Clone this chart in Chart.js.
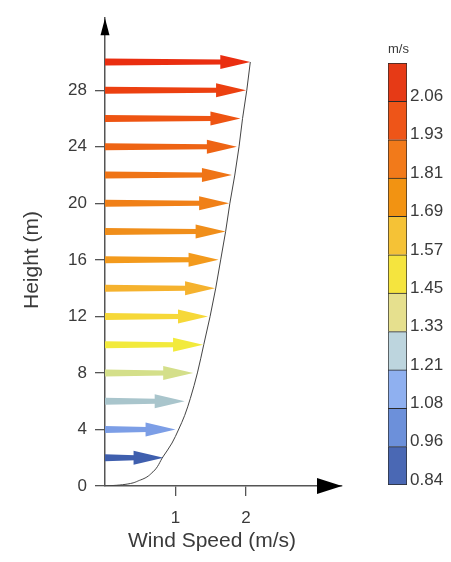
<!DOCTYPE html>
<html>
<head>
<meta charset="utf-8">
<script src="https://cdn.jsdelivr.net/npm/chart.js@4"></script>
<style>
  html, body { margin: 0; padding: 0; background: #fff; }
  #wrap { position: relative; width: 451px; height: 562px; }
  #profile { position: absolute; left: 0; top: 0; }
  #scale { position: absolute; left: 370px; top: 0; }
</style>
</head>
<body>
<div id="wrap">
  <canvas id="profile" width="370" height="562"></canvas>
  <canvas id="scale" width="81" height="562"></canvas>
</div>
<script>
// wind arrows: height (m) and speed (m/s)
const heights = [2, 4, 6, 8, 10, 12, 14, 16, 18, 20, 22, 24, 26, 28, 30];
const speeds = [0.83, 1.00, 1.13, 1.25, 1.39, 1.46, 1.56, 1.61, 1.71, 1.76, 1.80, 1.87, 1.92, 2.00, 2.06];
const arrowColors = ['#3f5fae', '#7c9ee6', '#a9c5cc', '#d4df8a', '#f2ea3c', '#f6d838', '#f5b22e', '#f39a1c',
                     '#f08e1a', '#f08018', '#ef7416', '#ee6414', '#ee5412', '#ec4010', '#ea2e10'];

// thin profile curve
const curveSpeed = [0, 0.21, 0.50, 0.68, 0.82, 0.95, 1.04, 1.13, 1.21, 1.31, 1.40, 1.49, 1.57, 1.64, 1.71, 1.77, 1.84, 1.90, 1.95, 2.01, 2.06];
const curveHeight = [0, 0.07, 0.42, 1.0, 2.05, 3.04, 3.96, 5.0, 6.2, 8, 10, 12, 14, 16, 18, 20, 22, 24, 26, 28, 30];

const heightTicks = [0, 4, 8, 12, 16, 20, 24, 28];
const speedTicks = [1, 2];

// colour bar, bottom to top
const barLabels = ['0.84', '0.96', '1.08', '1.21', '1.33', '1.45', '1.57', '1.69', '1.81', '1.93', '2.06'];
const barColors = ['#4a68b4', '#6c90da', '#8fb0f0', '#bdd5de', '#e6e08e', '#f5e43e', '#f5c236', '#f29312',
                   '#f27a1a', '#ee5518', '#e63a16'];

const FONT = "'Liberation Sans', Arial, sans-serif";
const TEXT = '#3a3a3a';
const AXIS = '#555';

// arrows drawn through the chart scales
const arrowPlugin = {
    id: 'windArrows',
    beforeDatasetsDraw(chart) {
        const { ctx, scales: { x, y } } = chart;
        const x0 = x.getPixelForValue(0);
        ctx.save();
        heights.forEach((h, i) => {
            const py = y.getPixelForValue(h);
            const tip = x.getPixelForValue(speeds[i]);
            const headLen = 30, headHalf = 7;
            const base = tip - headLen;
            ctx.fillStyle = arrowColors[i];
            ctx.beginPath();
            ctx.moveTo(x0, py - 3.5);
            ctx.lineTo(base + 2, py - 2.5);
            ctx.lineTo(base + 2, py + 2.5);
            ctx.lineTo(x0, py + 3.5);
            ctx.closePath();
            ctx.fill();
            ctx.beginPath();
            ctx.moveTo(tip, py);
            ctx.lineTo(base, py - headHalf);
            ctx.lineTo(base, py + headHalf);
            ctx.closePath();
            ctx.fill();
        });
        ctx.restore();
    },
    afterDraw(chart) {
        const { ctx, chartArea, scales: { x, y } } = chart;
        const x0 = x.getPixelForValue(0);
        const y0 = y.getPixelForValue(0);
        ctx.save();
        ctx.fillStyle = '#000';
        // x axis arrow head
        ctx.beginPath();
        ctx.moveTo(chartArea.right, y0);
        ctx.lineTo(chartArea.right - 25, y0 - 8);
        ctx.lineTo(chartArea.right - 25, y0 + 8);
        ctx.closePath();
        ctx.fill();
        // y axis arrow head
        ctx.beginPath();
        ctx.moveTo(x0, chartArea.top);
        ctx.lineTo(x0 - 4.5, chartArea.top + 17);
        ctx.lineTo(x0 + 4.5, chartArea.top + 17);
        ctx.closePath();
        ctx.fill();

        // axis titles
        ctx.fillStyle = TEXT;
        ctx.font = '21px ' + FONT;
        ctx.textAlign = 'center';
        ctx.textBaseline = 'alphabetic';
        ctx.fillText('Wind Speed (m/s)', 212, 547);
        ctx.translate(38, 260);
        ctx.rotate(-Math.PI / 2);
        ctx.fillText('Height (m)', 0, 0);
        ctx.restore();
    }
};

new Chart(document.getElementById('profile'), {
    type: 'scatter',
    data: {
        datasets: [{
            data: curveSpeed.map((v, i) => ({ x: v, y: curveHeight[i] })),
            indexAxis: 'y', // smooth speed as a function of height
            showLine: true,
            borderColor: '#444',
            borderWidth: 1,
            pointRadius: 0,
            cubicInterpolationMode: 'monotone'
        }]
    },
    options: {
        responsive: false,
        animation: false,
        layout: { padding: { top: 18, right: 28, left: 0, bottom: 0 } },
        plugins: { legend: { display: false }, tooltip: { enabled: false } },
        scales: {
            x: {
                type: 'linear', min: 0, max: 3.36,
                afterFit: s => { s.height = 76; },
                afterBuildTicks: s => { s.ticks = speedTicks.map(v => ({ value: v })); },
                grid: { drawOnChartArea: false, tickLength: 10, color: AXIS, lineWidth: 1.3 },
                border: { color: AXIS, width: 1.5 },
                ticks: { padding: 12, color: TEXT, font: { family: FONT, size: 17 } }
            },
            y: {
                type: 'linear', min: 0, max: 33.1,
                afterFit: s => { s.width = 105; },
                afterBuildTicks: s => { s.ticks = heightTicks.map(v => ({ value: v })); },
                grid: { drawOnChartArea: false, tickLength: 10, color: AXIS, lineWidth: 1.3 },
                border: { color: AXIS, width: 1.5 },
                ticks: { padding: 8, color: TEXT, font: { family: FONT, size: 17 } }
            }
        }
    },
    plugins: [arrowPlugin]
});

// unit label above the colour bar
const unitPlugin = {
    id: 'unitLabel',
    afterDraw(chart) {
        const { ctx, chartArea } = chart;
        ctx.save();
        ctx.fillStyle = TEXT;
        ctx.font = '13px ' + FONT;
        ctx.textAlign = 'left';
        ctx.textBaseline = 'alphabetic';
        ctx.fillText('m/s', chartArea.left, 53);
        ctx.restore();
    }
};

new Chart(document.getElementById('scale'), {
    type: 'bar',
    data: {
        labels: [''],
        datasets: barColors.map((c, i) => ({
            data: [[i, i + 1]],
            backgroundColor: c,
            borderColor: '#2a2a2a',
            borderWidth: { top: 1, left: 1, right: 1, bottom: i === 0 ? 1 : 0 },
            borderSkipped: false,
            grouped: false,
            barPercentage: 1,
            categoryPercentage: 1
        }))
    },
    options: {
        responsive: false,
        animation: false,
        layout: { padding: { top: 63, bottom: 77, left: 18, right: 0 } },
        plugins: { legend: { display: false }, tooltip: { enabled: false } },
        scales: {
            x: { display: false },
            y: {
                position: 'right', min: 0, max: barColors.length,
                afterFit: s => { s.width = 44; },
                afterBuildTicks: s => { s.ticks = barLabels.map((_, i) => ({ value: i })); },
                grid: { display: false, drawTicks: false },
                border: { display: false },
                ticks: {
                    padding: 3, labelOffset: -5, color: TEXT,
                    font: { family: FONT, size: 17 },
                    callback: v => barLabels[v]
                }
            }
        }
    },
    plugins: [unitPlugin]
});
</script>
</body>
</html>
